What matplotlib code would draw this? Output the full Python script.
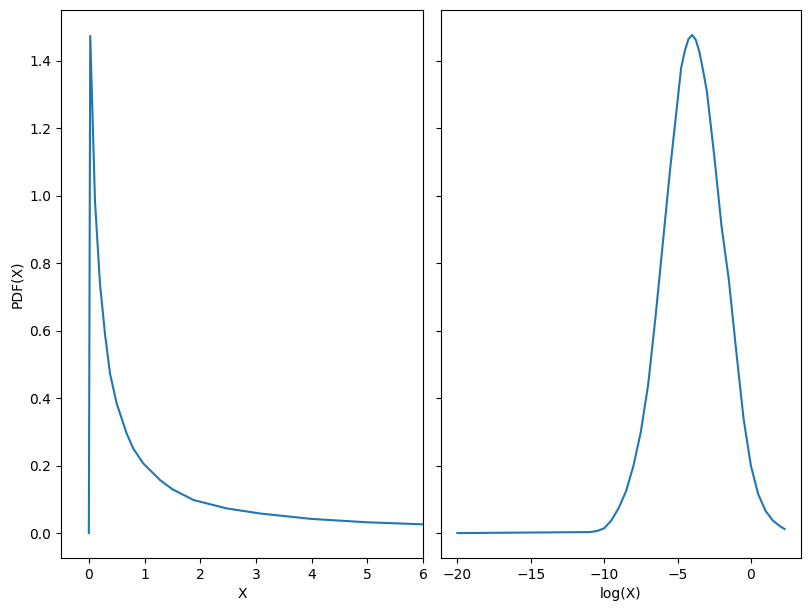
import numpy as np
import matplotlib
matplotlib.use("Agg")
import matplotlib.pyplot as plt

# Left panel: X and PDF(X)
x_left = [0.0, 0.025, 0.11, 0.2, 0.29, 0.38, 0.5, 0.68, 0.8, 0.98, 1.28,
          1.5, 1.88, 2.48, 3.08, 4.0, 5.0, 6.0, 8.0, 10.0]
pdf_left = [0.0, 1.474, 0.985, 0.739, 0.59, 0.473, 0.384, 0.295, 0.25, 0.206,
            0.157, 0.13, 0.098, 0.073, 0.058, 0.042, 0.032, 0.026, 0.017, 0.012]

# Right panel: log(X) and PDF(X)
log_x = [-20.0, -11.0, -10.5, -10.0, -9.5, -9.0, -8.5, -8.0, -7.5, -7.0,
         -6.5, -6.0, -5.5, -5.0, -4.75, -4.5, -4.25, -4.0, -3.75, -3.5,
         -3.25, -3.0, -2.5, -2.0, -1.5, -1.0, -0.5, 0.0, 0.5, 1.0, 1.5,
         2.0, 2.3]
pdf_right = [0.0, 0.003, 0.006, 0.014, 0.038, 0.075, 0.125, 0.20, 0.30, 0.44,
             0.64, 0.86, 1.08, 1.28, 1.38, 1.43, 1.465, 1.477, 1.462, 1.425,
             1.37, 1.31, 1.12, 0.91, 0.75, 0.54, 0.34, 0.20, 0.115, 0.066,
             0.037, 0.020, 0.012]

x_label_left = "X"
x_label_right = "log(X)"
y_label = "PDF(X)"

W, H = 811, 611
fig = plt.figure(figsize=(W / 100, H / 100), dpi=100)
ax1 = fig.add_axes([61 / W, (H - 558) / H, (423 - 61) / W, (558 - 10) / H])
ax2 = fig.add_axes([441 / W, (H - 558) / H, (801 - 441) / W, (558 - 10) / H], sharey=ax1)

ax1.plot(x_left, pdf_left)
ax1.set_xlim(-0.5, 6)
ax1.set_xlabel(x_label_left)
ax1.set_ylabel(y_label)

ax2.plot(log_x, pdf_right)
ax2.set_xlabel(x_label_right)
plt.setp(ax2.get_yticklabels(), visible=False)

fig.savefig("out.png", dpi=100)
